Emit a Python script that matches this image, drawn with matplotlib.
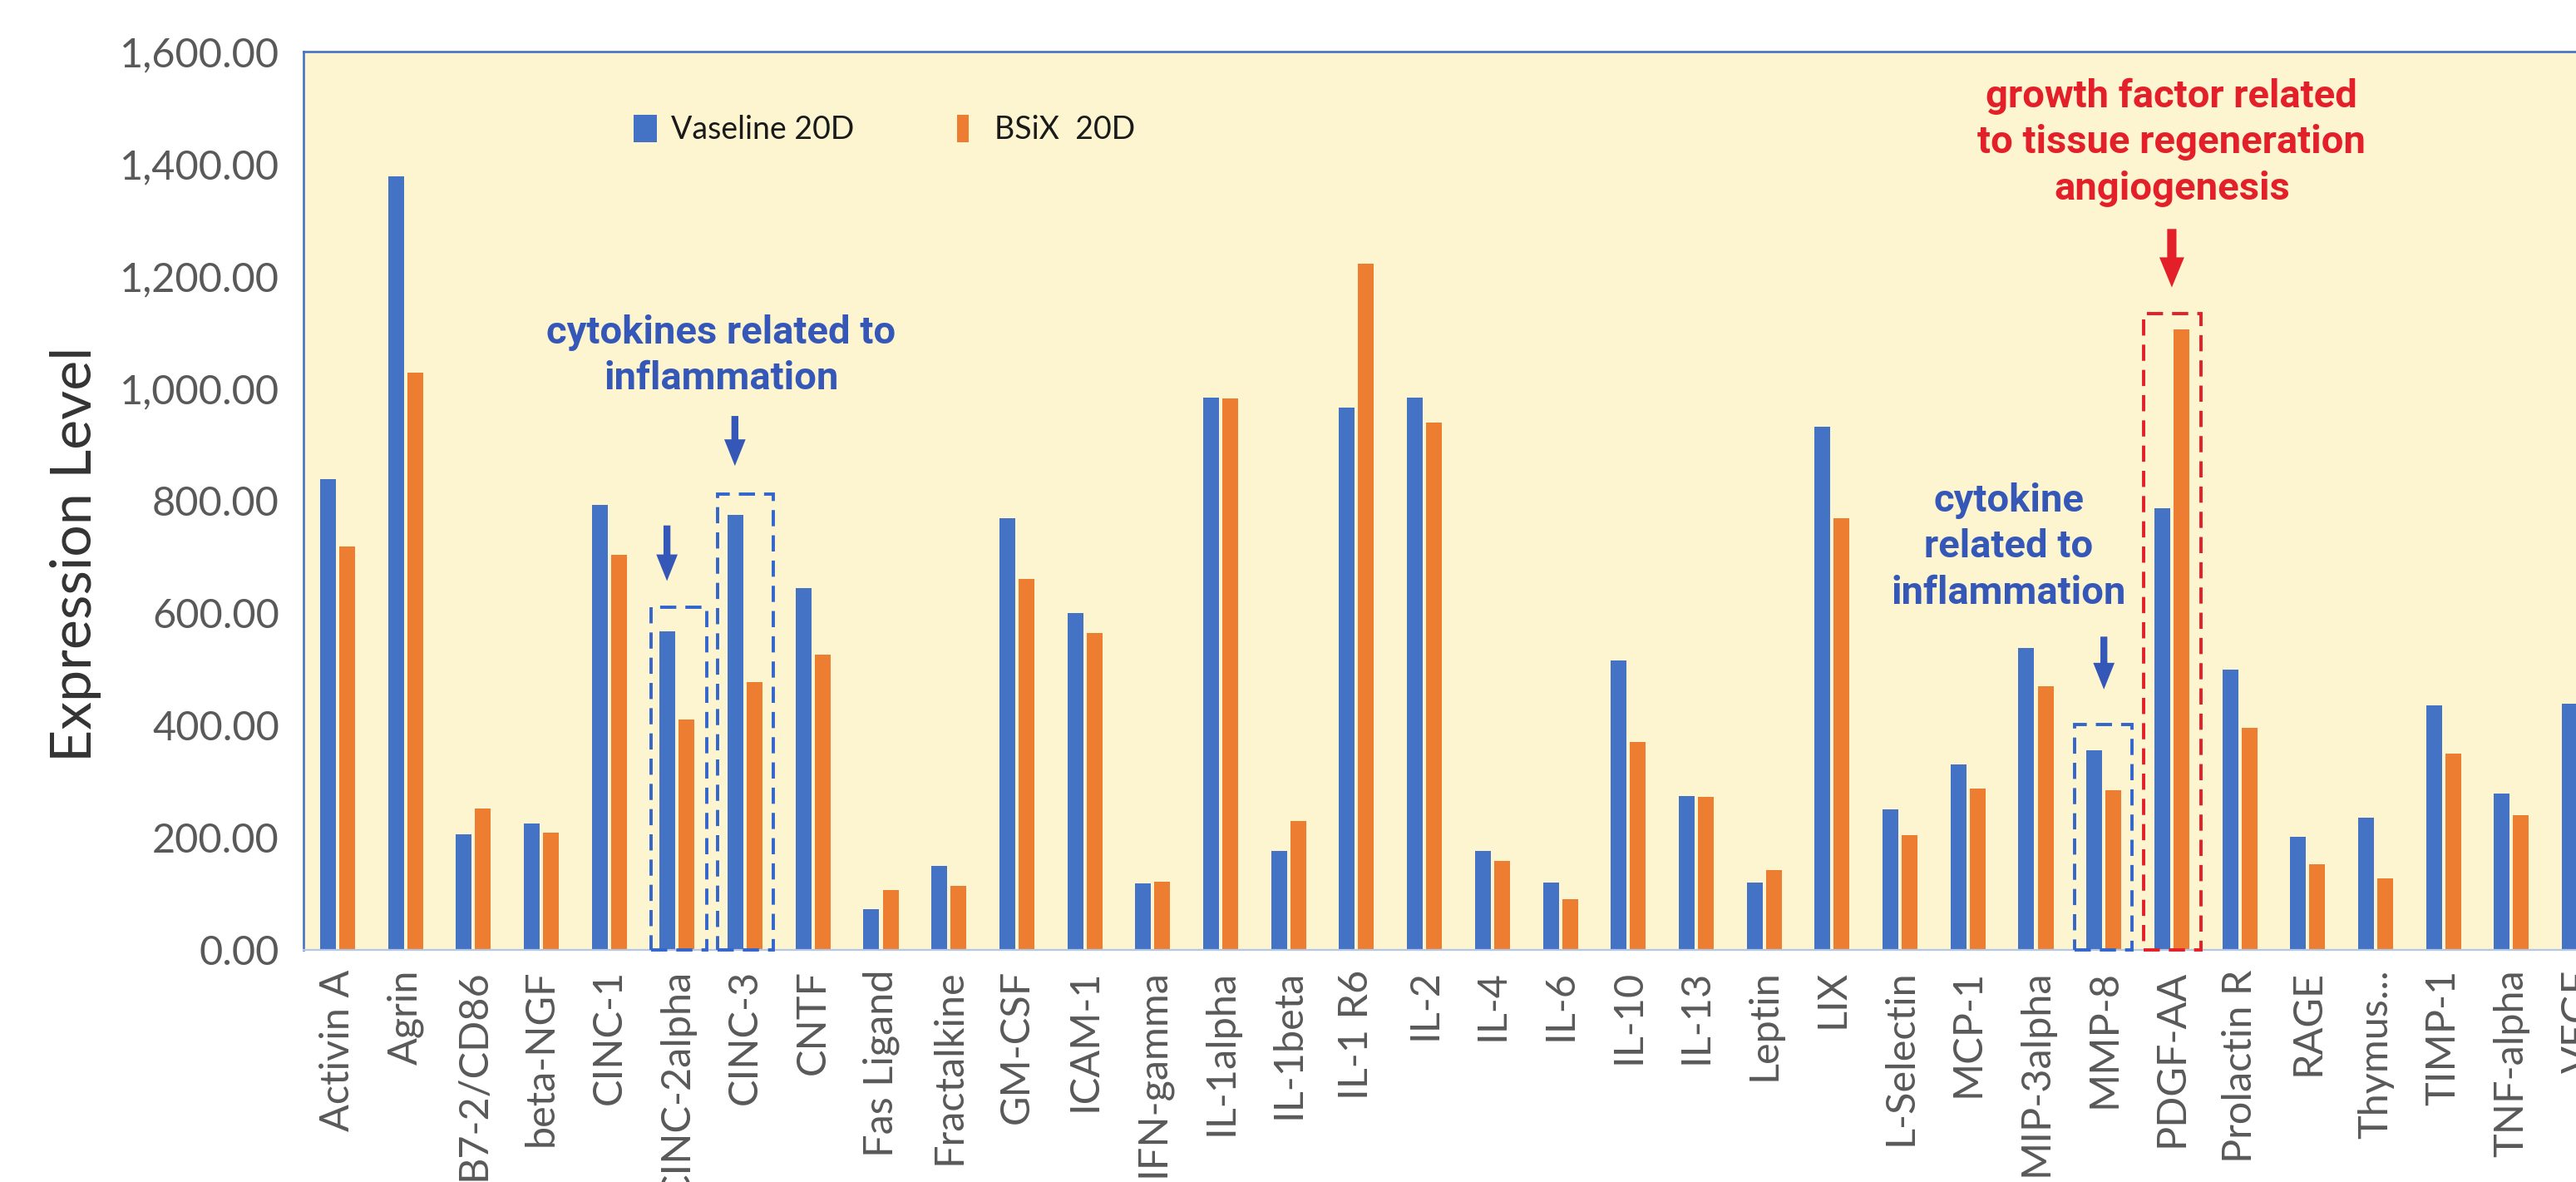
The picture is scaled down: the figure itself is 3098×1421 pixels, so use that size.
import matplotlib
matplotlib.use('Agg')
import matplotlib.pyplot as plt
from matplotlib.patches import Rectangle
import numpy as np

plt.rcParams['font.family'] = ['Lato', 'DejaVu Sans']

categories = ["Activin A", "Agrin", "B7-2/CD86", "beta-NGF", "CINC-1", "CINC-2alpha",
              "CINC-3", "CNTF", "Fas Ligand", "Fractalkine", "GM-CSF", "ICAM-1",
              "IFN-gamma", "IL-1alpha", "IL-1beta", "IL-1 R6", "IL-2", "IL-4", "IL-6",
              "IL-10", "IL-13", "Leptin", "LIX", "L-Selectin", "MCP-1", "MIP-3alpha",
              "MMP-8", "PDGF-AA", "Prolactin R", "RAGE", "Thymus...", "TIMP-1",
              "TNF-alpha", "VEGF"]
vaseline_20d = [838, 1378, 206, 225, 793, 568, 775, 645, 72, 149, 769, 600, 118, 983,
                176, 966, 984, 176, 120, 515, 274, 120, 932, 250, 331, 538, 356, 786,
                500, 202, 236, 436, 279, 439]
# last value (VEGF) is cut off in the source image
bsix_20d = [718, 1028, 252, 209, 703, 410, 477, 526, 106, 114, 661, 564, 122, 982,
            229, 1222, 939, 158, 90, 370, 272, 142, 769, 204, 287, 470, 284, 1105,
            396, 153, 127, 349, 240, float('nan')]
y_ticks = [0, 200, 400, 600, 800, 1000, 1200, 1400, 1600]
series_names = ["Vaseline 20D", "BSiX  20D"]

BLUE = '#4472C4'
ORANGE = '#ED7D31'
RED = '#E3202A'
ANN_BLUE = '#3558B8'
BOX_BLUE = '#3366CC'

W, H, DPI = 3098, 1421, 100
fig = plt.figure(figsize=(W / DPI, H / DPI), dpi=DPI)
fig.patch.set_facecolor('white')
ax = fig.add_axes([365 / W, 1 - 1142 / H, 2778 / W, 1080 / H])
ax.set_facecolor('#FDF5CF')

x = np.arange(len(categories))
bw = 0.233
off = 0.141
ax.bar(x - off, vaseline_20d, bw, color=BLUE, label=series_names[0], zorder=2)
ax.bar(x + off, bsix_20d, bw, color=ORANGE, label=series_names[1], zorder=2)

ax.set_xlim(-0.5, len(categories) - 0.5)
ax.set_ylim(0, 1600)
ax.set_yticks(y_ticks)
ax.set_yticklabels([f'{v:,.2f}' for v in y_ticks])
ax.set_xticks(x)
ax.set_xticklabels(categories, rotation=90, ha='center', va='top')
ax.tick_params(axis='both', length=0, labelsize=35, labelcolor='#595959')
ax.tick_params(axis='y', pad=21)
ax.tick_params(axis='x', pad=17)

for s in ['left', 'top', 'right']:
    ax.spines[s].set_color(BLUE)
    ax.spines[s].set_linewidth(1.9)
ax.spines['bottom'].set_color('#B4C7E7')
ax.spines['bottom'].set_linewidth(1.6)

ax.set_ylabel('Expression Level', fontsize=49, color='#333333', fontweight='normal',
              va='center')
ax.yaxis.set_label_coords(-0.0985, 0.44)

leg = ax.legend(loc='center left', bbox_to_anchor=(762 / W, 1 - 156 / H),
                bbox_transform=fig.transFigure, ncol=2, frameon=False, fontsize=27,
                handlelength=0.75, handleheight=1.0, handletextpad=0.45,
                columnspacing=3.3, borderpad=0, borderaxespad=0)
for t in leg.get_texts():
    t.set_color('#1A1A1A')
hs = leg.legend_handles
hs[1].set_width(hs[1].get_width() * 0.5)

ann_font = dict(family=['Roboto', 'DejaVu Sans'], fontweight='bold', fontsize=34,
                ha='center', va='center', linespacing=1.32, zorder=5)
ax.text(27.0, 1438, 'growth factor related\nto tissue regeneration\nangiogenesis',
        color=RED, **ann_font)
ax.text(5.65, 1058, 'cytokines related to\ninflammation', color=ANN_BLUE, **ann_font)
ax.text(24.6, 718, 'cytokine\nrelated to\ninflammation', color=ANN_BLUE, **ann_font)

def arrow(xp, y0, y1, color, hl, hw, tw):
    ax.annotate('', xy=(xp, y1), xytext=(xp, y0),
                arrowprops=dict(arrowstyle=f'simple,head_length={hl},head_width={hw},tail_width={tw}',
                                mutation_scale=50, color=color, shrinkA=0, shrinkB=0, lw=0),
                zorder=5)

arrow(27.0, 1284, 1180, RED, 0.52, 0.43, 0.16)
arrow(5.85, 951, 862, ANN_BLUE, 0.46, 0.37, 0.12)
arrow(4.85, 756, 657, ANN_BLUE, 0.46, 0.37, 0.12)
arrow(26.0, 558, 464, ANN_BLUE, 0.46, 0.37, 0.12)

def dbox(x0, x1, top, color):
    r = Rectangle((x0, 0), x1 - x0, top, fill=False, edgecolor=color, lw=2.8,
                  linestyle=(0, (5, 2.8)), zorder=4, clip_on=False)
    ax.add_patch(r)

dbox(4.62, 5.43, 610, BOX_BLUE)
dbox(5.60, 6.41, 812, BOX_BLUE)
dbox(25.57, 26.41, 402, BOX_BLUE)
dbox(26.58, 27.43, 1134, RED)

fig.savefig('out.png', dpi=DPI, facecolor='white')
